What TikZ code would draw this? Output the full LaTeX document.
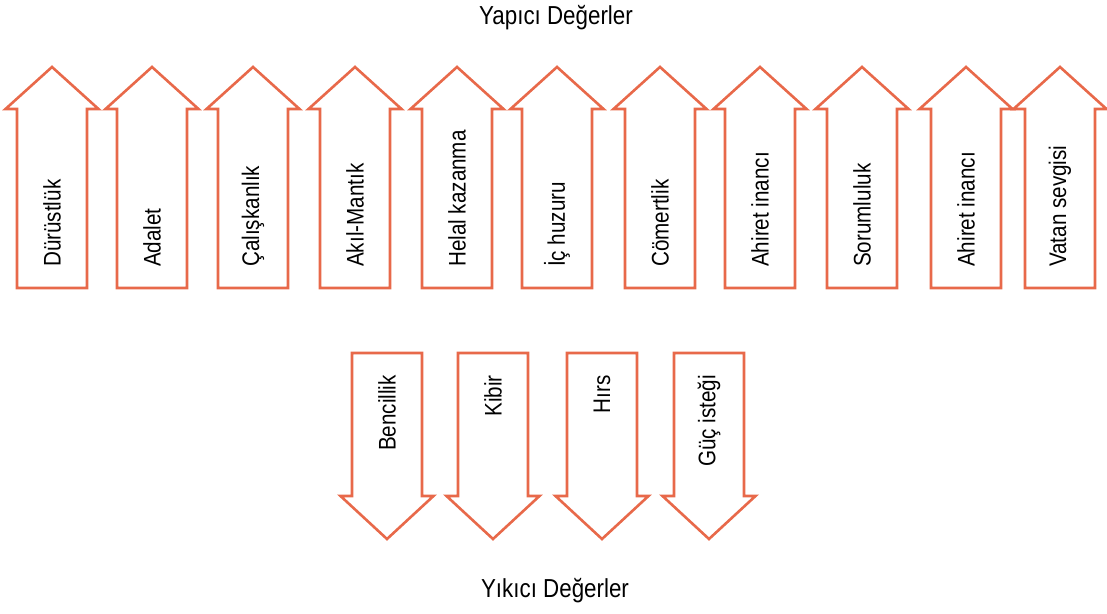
\documentclass[tikz,border=0pt]{standalone}
\usepackage{fontspec}
\setmainfont{Liberation Sans}[FakeStretch=0.86]
\definecolor{arrowline}{HTML}{E8694A}
\tikzset{
  arrowshape/.style={draw=arrowline, line width=2.6pt, fill=white, line join=miter},
  label/.style={font=\fontsize{24}{28}\selectfont, text=black, inner sep=0pt, rotate=90},
  title/.style={font=\fontsize{26}{30}\selectfont, text=black, inner sep=0pt, anchor=base},
}
% up arrow: #1 centre x, #2 name, #3 text
\newcommand\upvalue[3]{%
  \draw[arrowshape] (#1-35,288) -- (#1-35,109) -- (#1-46.5,109) -- (#1,67)
    -- (#1+46.5,109) -- (#1+35,109) -- (#1+35,288) -- cycle;
  \node[label, anchor=west] (#2) at (#1,267) {#3};
}
% down arrow: #1 centre x, #2 name, #3 text
\newcommand\downvalue[3]{%
  \draw[arrowshape] (#1-35,353) -- (#1-35,496) -- (#1-46.5,496) -- (#1,539)
    -- (#1+46.5,496) -- (#1+35,496) -- (#1+35,353) -- cycle;
  \node[label, anchor=east] (#2) at (#1,375) {#3};
}
\begin{document}
\begin{tikzpicture}[x=1pt, y=-1pt]
\useasboundingbox (0,0) rectangle (1107,613);
\node[title] (yapici) at (556,24) {Yapıcı Değerler};
\upvalue{52}{u1}{Dürüstlük}
\upvalue{152}{u2}{Adalet}
\upvalue{253}{u3}{Çalışkanlık}
\upvalue{355}{u4}{Akıl-Mantık}
\upvalue{457}{u5}{Helal kazanma}
\upvalue{557}{u6}{İç huzuru}
\upvalue{660}{u7}{Cömertlik}
\upvalue{760}{u8}{Ahiret inancı}
\upvalue{862}{u9}{Sorumluluk}
\upvalue{966}{u10}{Ahiret inancı}
\upvalue{1060}{u11}{Vatan sevgisi}
\downvalue{387}{d1}{Bencillik}
\downvalue{493}{d2}{Kibir}
\downvalue{602}{d3}{Hırs}
\downvalue{709}{d4}{Güç isteği}
\node[title] (yikici) at (555,597) {Yıkıcı Değerler};
\end{tikzpicture}
\end{document}
